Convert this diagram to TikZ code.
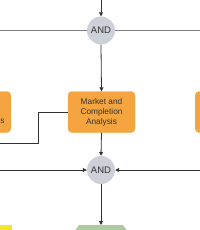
\documentclass[tikz,border=0pt]{standalone}
\usepackage{fontspec}
\setmainfont{Liberation Sans}
\usetikzlibrary{arrows.meta}
\definecolor{orng}{HTML}{F5A540}
\definecolor{andfill}{HTML}{CDD0D8}
\definecolor{txt}{HTML}{333333}
\definecolor{grn}{HTML}{AECBA0}
\definecolor{ylw}{HTML}{F7E32B}
\definecolor{lgray}{HTML}{808080}
\tikzset{
  andnode/.style={circle, fill=andfill, minimum size=28pt, inner sep=0pt, font=\fontsize{9.5}{11}\selectfont, text=txt},
  taskbox/.style={rectangle, rounded corners=4pt, fill=orng, draw=orng, minimum width=67pt, minimum height=41pt, align=center, font=\fontsize{8.3}{10}\selectfont, text=txt, inner sep=1pt},
  arr/.style={draw=txt, line width=0.8pt, -{Triangle[length=4pt,width=4pt]}},
  ln/.style={draw=txt, line width=0.8pt},
  gln/.style={draw=lgray, line width=0.8pt}
}
\begin{document}
\begin{tikzpicture}[x=1pt,y=-1pt]
\useasboundingbox (0,0) rectangle (200,230);
\clip (0,0) rectangle (200,230);
% boxes
\node[taskbox] (mca) at (101.5,112) {Market and\\Completion\\Analysis};
\node[taskbox, anchor=east] (lbox) at (11,112) {};
\node[font=\fontsize{8.3}{10}\selectfont, text=txt, anchor=base west, inner sep=0pt] (ltxt) at (0.3,123.5) {s};
\node[taskbox, anchor=west] (rbox) at (195,112) {};
% AND nodes
\node[andnode] (and1) at (101,30.5) {AND};
\node[andnode] (and2) at (101,170) {AND};
% bottom shapes
\fill[grn] (79,225) -- (123,225) -- (128,232) -- (74,232) -- cycle;
\coordinate (g) at (101,225);
\fill[ylw] (0,225) rectangle (12,231);
% free ends
\coordinate (t0) at (101,0);
\coordinate (l1) at (0,30.5);
\coordinate (r1) at (200,30.5);
\coordinate (l2) at (0,170);
\coordinate (r2) at (200,170);
\coordinate (c1) at (38,112);
\coordinate (c2) at (38,143);
\coordinate (c3) at (0,143);
% connectors
\draw[arr] (t0) -- (and1.north);
\draw[gln] (l1) -- (and1.west);
\draw[gln] (and1.east) -- (r1);
\draw[arr] (and1.south) -- (mca.north);
\draw[ln] (mca.west) -- (c1) -- (c2) -- (c3);
\draw[arr] (mca.south) -- (and2.north);
\draw[arr] (l2) -- (and2.west);
\draw[arr] (r2) -- (and2.east);
\draw[arr] (and2.south) -- (g);
\end{tikzpicture}
\end{document}
